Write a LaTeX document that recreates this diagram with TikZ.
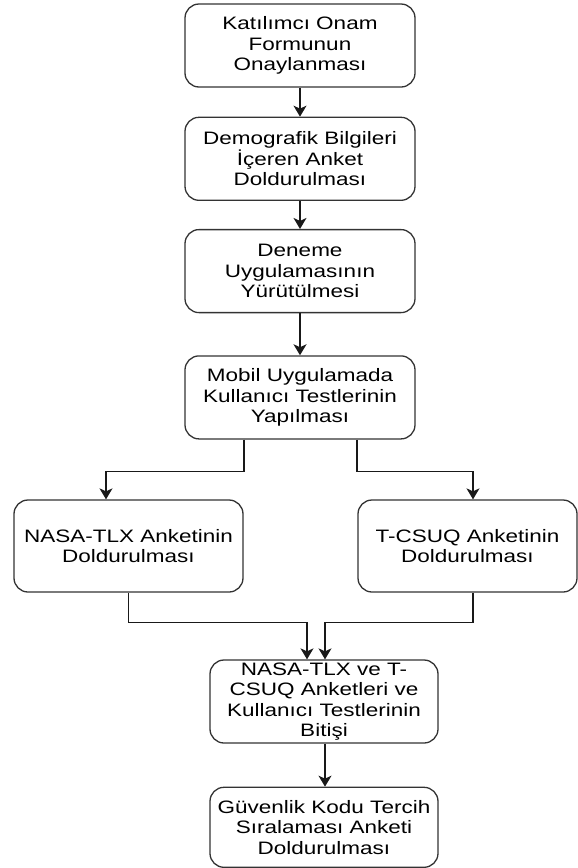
\documentclass[tikz,border=0pt]{standalone}
\usepackage{fontspec}
\setmainfont{Liberation Sans}[FakeStretch=1.25]
\usepackage{tikz}
\usetikzlibrary{arrows.meta,positioning,calc}
\newcommand{\boxfont}{\fontsize{18}{20.5}\selectfont}

\begin{document}
\begin{tikzpicture}[
	x=1pt, y=1pt,
	node distance=29pt,
	stepbox/.style={rectangle, draw=black!80, line width=1.3pt, rounded corners=14pt, minimum width=230pt, minimum height=83pt, align=center, inner sep=2pt, font=\boxfont},
	arr/.style={-{Stealth[length=11pt, width=13pt, inset=3pt]}, line width=1.3pt, draw=black!90}
]
\useasboundingbox (0,0) rectangle (578,-868);
\node[stepbox] (onam) at (300,-45.5) {Katılımcı Onam\\Formunun\\Onaylanması};
\node[stepbox, below=of onam] (demo) {Demografik Bilgileri\\İçeren Anket\\Doldurulması};
\node[stepbox, below=28pt of demo] (deneme) {Deneme\\Uygulamasının\\Yürütülmesi};
\node[stepbox, below=42pt of deneme] (mobil) {Mobil Uygulamada\\Kullanıcı Testlerinin\\Yapılması};
\node[stepbox, minimum width=229pt, minimum height=92pt] (nasa) at (128.5,-546) {NASA-TLX Anketinin\\Doldurulması};
\node[stepbox, minimum width=219pt, minimum height=92pt] (tcsuq) at (467.5,-546) {T-CSUQ Anketinin\\Doldurulması};
\node[stepbox, minimum width=228pt] (bitis) at (324,-701.5) {NASA-TLX ve T-\\CSUQ Anketleri ve\\Kullanıcı Testlerinin\\Bitişi};
\node[stepbox, minimum width=228pt, minimum height=80pt, below=43pt of bitis] (guvenlik) {Güvenlik Kodu Tercih\\Sıralaması Anketi\\Doldurulması};

\draw[arr] (onam) -- (demo);
\draw[arr] (demo) -- (deneme);
\draw[arr] (deneme) -- (mobil);
% dallanma: mobil testlerden iki ankete
\draw[arr] ([xshift=-56pt]mobil.south) -- ++(0,-32) -| ([xshift=-22.5pt]nasa.north);
\draw[arr] ([xshift=57pt]mobil.south) -- ++(0,-32) -| ([xshift=5.5pt]tcsuq.north);
% birleşme: iki anket bitişe
\draw[arr] (nasa.south) -- ++(0,-30) -| ([xshift=-17pt]bitis.north);
\draw[arr] ([xshift=5.5pt]tcsuq.south) -- ++(0,-30) -| ([xshift=1pt]bitis.north);
\draw[arr] ([xshift=1pt]bitis.south) -- ([xshift=1pt]guvenlik.north);
\end{tikzpicture}
\end{document}
